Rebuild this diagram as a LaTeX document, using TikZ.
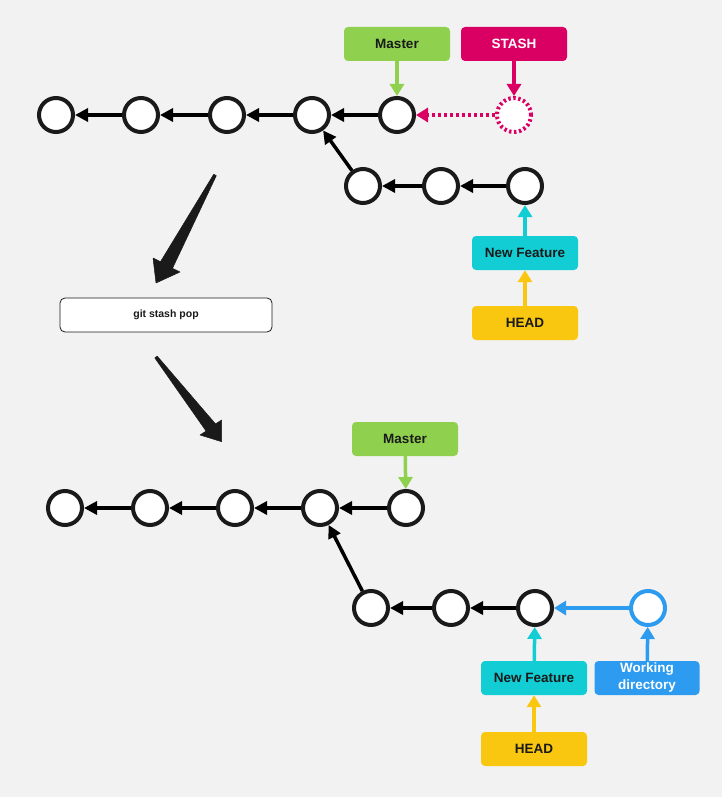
\documentclass[tikz,border=0pt]{standalone}
\usepackage{fontspec}
\setmainfont{Liberation Sans}
\usetikzlibrary{arrows.meta}
\definecolor{bg}{HTML}{F2F2F2}
\definecolor{mgreen}{HTML}{8FD14F}
\definecolor{mmag}{HTML}{DA0063}
\definecolor{mcyan}{HTML}{12CDD4}
\definecolor{myellow}{HTML}{FAC710}
\definecolor{mblue}{HTML}{2D9BF0}
\definecolor{dark}{HTML}{1A1A1A}
\tikzset{
  commit/.style={circle, draw=dark, fill=white, line width=4pt, minimum size=34pt, inner sep=0pt},
  label/.style={rounded corners=4pt, minimum width=106pt, minimum height=34pt, inner sep=1pt,
    font=\fontsize{13.5}{16}\selectfont\bfseries, text=dark, align=center},
  edge/.style={line width=3.5pt, draw=black, -{Triangle[length=13pt,width=13pt]}},
  cedge/.style={line width=3.5pt, draw=#1, -{Triangle[length=12pt,width=14pt]}, color=#1},
  bigarrow/.style={fill=dark, draw=dark, line width=0.5pt, line join=round}
}
\begin{document}
\begin{tikzpicture}[x=1pt,y=-1pt]
\fill[bg] (0,0) rectangle (722,797);
\useasboundingbox (0,0) rectangle (722,797);

% ---------- top graph ----------
\foreach \n/\x in {a1/56,a2/141,a3/227,a4/312,a5/397}
  \node[commit] (\n) at (\x,115) {};
\node[commit, draw=mmag, dash pattern=on 2.4pt off 2.6pt] (as) at (514,115) {};
\foreach \n/\x in {b1/363,b2/441,b3/525}
  \node[commit] (\n) at (\x,186) {};

\node[label, fill=mgreen] (amaster) at (397,44) {Master};
\node[label, fill=mmag, text=white] (astash) at (514,44) {STASH};
\node[label, fill=mcyan] (afeat) at (525,253) {New Feature};
\node[label, fill=myellow] (ahead) at (525,323) {HEAD};

\draw[edge] (a2) -- (a1);
\draw[edge] (a3) -- (a2);
\draw[edge] (a4) -- (a3);
\draw[edge] (a5) -- (a4);
\draw[edge] (b1) -- (a4);
\draw[edge] (b2) -- (b1);
\draw[edge] (b3) -- (b2);
\draw[cedge=mgreen] (amaster) -- (a5);
\draw[cedge=mmag] (astash) -- (as);
\draw[line width=3.5pt, draw=mmag, dash pattern=on 3pt off 3pt, -{Triangle[length=12pt,width=14pt]}, color=mmag] (as) -- (a5);
\draw[cedge=mcyan] (afeat) -- (b3);
\draw[cedge=myellow] (ahead) -- (afeat);

% ---------- middle ----------
\fill[bigarrow] (216.3,175.7) -- (172.5,268.3) -- (180,272) -- (156,283) -- (153,258) -- (160.5,261.7) -- (213.7,174.3) -- cycle;
\node[draw=dark, fill=white, rounded corners=5pt, line width=0.8pt, minimum width=212pt, minimum height=34pt,
  font=\fontsize{10.5}{12}\selectfont\bfseries, text=dark] (cmd) at (166,315) {git stash pop};
\fill[bigarrow] (157.2,356.1) -- (215.5,423.9) -- (221.7,420) -- (221.7,441.7) -- (200,435) -- (206.1,431.1) -- (154.8,357.9) -- cycle;

% ---------- bottom graph ----------
\foreach \n/\x in {c1/65,c2/150,c3/235,c4/320,c5/406}
  \node[commit] (\n) at (\x,508) {};
\foreach \n/\x in {d1/371,d2/451,d3/535}
  \node[commit] (\n) at (\x,608) {};
\node[commit, draw=mblue] (dw) at (648,608) {};

\node[label, fill=mgreen] (cmaster) at (405,439) {Master};
\node[label, fill=mcyan] (dfeat) at (534,678) {New Feature};
\node[label, fill=mblue, text=white, minimum width=105pt, font=\fontsize{13.5}{17}\selectfont\bfseries] (dwork) at (647,678) {\raisebox{-2pt}{Working}\\\raisebox{-2pt}{directory}};
\node[label, fill=myellow] (dhead) at (534,749) {HEAD};

\draw[edge] (c2) -- (c1);
\draw[edge] (c3) -- (c2);
\draw[edge] (c4) -- (c3);
\draw[edge] (c5) -- (c4);
\draw[edge] (d1) -- (c4);
\draw[edge] (d2) -- (d1);
\draw[edge] (d3) -- (d2);
\draw[cedge=mblue] (dw) -- (d3);
\draw[cedge=mgreen] (cmaster) -- (c5);
\draw[cedge=mcyan] (dfeat) -- (d3);
\draw[cedge=mblue] (dwork) -- (dw);
\draw[cedge=myellow] (dhead) -- (dfeat);
\end{tikzpicture}
\end{document}
